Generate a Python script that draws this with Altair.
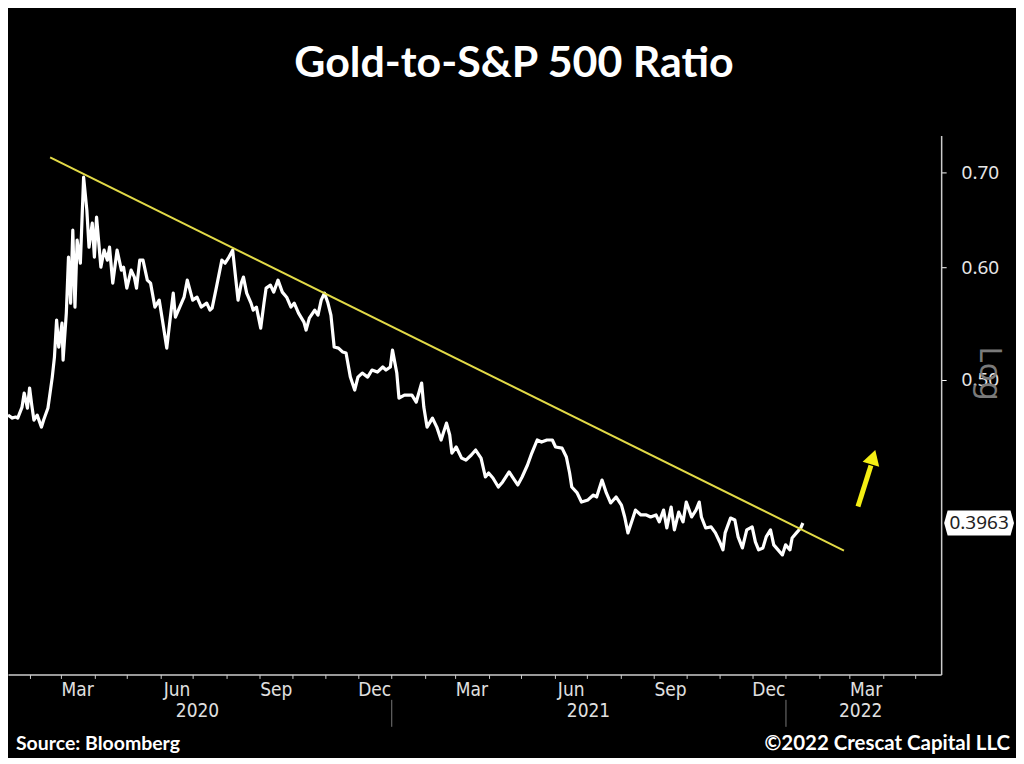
import altair as alt
import pandas as pd

# ---- data ----
# dates are given as days elapsed since 2020-01-01
days_2020a = [11, 15, 18, 20, 24, 26, 29, 31, 33, 35, 38, 42, 44, 48, 52, 54, 56, 58, 61, 62,
              65, 67, 69, 71, 73, 75, 78, 81, 84, 86, 89, 91, 93, 97, 100, 103, 105, 108, 112, 116,
              118, 121, 125, 128, 130, 133, 136, 140, 143, 147, 151, 154, 158, 161, 164, 166, 170,
              174, 177, 182, 186, 190, 195]
ratio_2020a = [0.4721, 0.4698, 0.4706, 0.4698, 0.4783, 0.4893, 0.4775, 0.4933, 0.4798, 0.4683,
               0.4721, 0.4630, 0.4683, 0.4775, 0.5021, 0.5187, 0.5507, 0.5272, 0.5480, 0.5162,
               0.5570, 0.6099, 0.5661, 0.6372, 0.5625, 0.6270, 0.6040, 0.6944, 0.6582, 0.6199,
               0.6445, 0.6099, 0.6508, 0.6001, 0.6169, 0.6070, 0.6199, 0.5848, 0.6169, 0.5972,
               0.6001, 0.5801, 0.5972, 0.5905, 0.5801, 0.6070, 0.6070, 0.5876, 0.5848, 0.5625,
               0.5689, 0.5507, 0.5263, 0.5507, 0.5754, 0.5534, 0.5625, 0.5716, 0.5876, 0.5689,
               0.5716, 0.5625, 0.5661]
days_2020b = [198, 200, 204, 209, 212, 215, 219, 221, 224, 227, 229, 232, 236, 238, 241, 245, 248,
              250, 254, 257, 261, 265, 269, 273, 276, 280, 285, 287, 290, 295, 298, 301, 304, 307,
              310, 313, 317, 321, 324, 328, 332, 335, 339, 344, 348, 353, 358, 361, 365, 367, 371,
              373, 378]
ratio_2020b = [0.5597, 0.5615, 0.5810, 0.6070, 0.6040, 0.6089, 0.6169, 0.5972, 0.5689, 0.5848,
               0.5905, 0.5754, 0.5661, 0.5597, 0.5625, 0.5436, 0.5661, 0.5801, 0.5829, 0.5763,
               0.5876, 0.5763, 0.5716, 0.5625, 0.5661, 0.5570, 0.5489, 0.5419, 0.5525, 0.5597,
               0.5552, 0.5689, 0.5754, 0.5670, 0.5552, 0.5272, 0.5263, 0.5229, 0.5221, 0.5021,
               0.4917, 0.5021, 0.5054, 0.5021, 0.5079, 0.5062, 0.5104, 0.5079, 0.5104, 0.5246,
               0.5054, 0.4853, 0.4877]
days_2021a = [385, 389, 394, 396, 399, 404, 408, 412, 417, 420, 422, 426, 431, 435, 440, 444, 449,
              453, 456, 460, 465, 469, 475, 480, 483, 487, 492, 496, 501, 505, 510, 515, 518, 524,
              528, 531, 533, 538, 542, 548, 553, 556, 561, 565, 569, 574]
ratio_2021a = [0.4877, 0.4822, 0.4973, 0.4783, 0.4630, 0.4698, 0.4630, 0.4534, 0.4660, 0.4571,
               0.4439, 0.4483, 0.4403, 0.4389, 0.4425, 0.4461, 0.4403, 0.4270, 0.4298, 0.4263,
               0.4201, 0.4236, 0.4305, 0.4249, 0.4215, 0.4270, 0.4354, 0.4439, 0.4534, 0.4519,
               0.4534, 0.4534, 0.4483, 0.4475, 0.4411, 0.4298, 0.4201, 0.4161, 0.4100, 0.4114,
               0.4147, 0.4134, 0.4249, 0.4161, 0.4094, 0.4134]
days_2021b = [579, 582, 585, 589, 592, 597, 602, 606, 611, 614, 618, 621, 625, 628, 632, 636, 639,
              644, 648, 651, 653, 657, 662, 666, 670, 673, 675, 680, 684, 687, 691, 695, 700, 703,
              706, 710, 713, 717, 720, 724, 728, 731, 735, 737, 741, 745, 747]
ratio_2021b = [0.4080, 0.4002, 0.3900, 0.3982, 0.4047, 0.4015, 0.4015, 0.4002, 0.4015, 0.3970,
               0.4047, 0.3931, 0.4067, 0.3919, 0.4034, 0.3970, 0.4100, 0.4002, 0.4047, 0.4100,
               0.4002, 0.3931, 0.3938, 0.3900, 0.3843, 0.3794, 0.3900, 0.3995, 0.3982, 0.3875,
               0.3806, 0.3919, 0.3938, 0.3843, 0.3794, 0.3806, 0.3875, 0.3919, 0.3825, 0.3794,
               0.3763, 0.3825, 0.3794, 0.3868, 0.3900, 0.3931, 0.3963]

trend_dates = ["2020-02-20", "2022-02-24"]
trend_values = [0.717, 0.379]
arrow_dates = ["2022-03-09", "2022-03-21"]
arrow_values = [0.407, 0.435]
arrow_head_date = ["2022-03-23"]
arrow_head_value = [0.441]
y_ticks = [0.50, 0.60, 0.70]
last_label = "0.3963"
title_text = "Gold-to-S&P 500 Ratio"
source_text = "Source: Bloomberg"
copyright_text = "©2022 Crescat Capital LLC"

# ---- scales ----
W, H = 935, 540
x_scale = alt.Scale(domain=[alt.DateTime(year=2020, month=1, date=12),
                            alt.DateTime(year=2022, month=5, date=25)])
y_scale = alt.Scale(type="log", domain=[0.31, 0.743])

month_starts = [alt.DateTime(year=yy, month=mm, date=1)
                for yy in (2020, 2021, 2022) for mm in range(1, 13)
                if (yy, mm) > (2020, 1) and (yy, mm) <= (2022, 5)]
month_mids = [alt.DateTime(year=yy, month=mm, date=16)
              for yy in (2020, 2021, 2022) for mm in (3, 6, 9, 12)
              if (yy, mm) <= (2022, 3)]
year_mids = [alt.DateTime(year=2020, month=7, date=5),
             alt.DateTime(year=2021, month=7, date=2),
             alt.DateTime(year=2022, month=3, date=11)]
year_starts = [alt.DateTime(year=2021, month=1, date=1),
               alt.DateTime(year=2022, month=1, date=1)]

AXIS_FONT = "Liberation Sans Narrow, DejaVu Sans Condensed, Noto Sans"
LABEL_FONT = "Noto Sans"

all_days = days_2020a + days_2020b + days_2021a + days_2021b
all_ratio = ratio_2020a + ratio_2020b + ratio_2021a + ratio_2021b
main_df = pd.DataFrame({
    "date": pd.Timestamp("2020-01-01") + pd.to_timedelta(all_days, unit="D"),
    "ratio": all_ratio,
})
main_df["date"] = main_df["date"].dt.strftime("%Y-%m-%d")

main = alt.Chart(main_df).mark_line(color="white", strokeWidth=3.2,
                                    strokeJoin="round").encode(
    x=alt.X("date:T", scale=x_scale,
            axis=alt.Axis(orient="bottom", values=month_starts, labels=False, ticks=True,
                          tickSize=4, tickColor="#cccccc", domain=True,
                          domainColor="#cccccc", domainWidth=1.5, grid=False, title=None)),
    y=alt.Y("ratio:Q", scale=y_scale,
            axis=alt.Axis(orient="right", values=y_ticks, format=".2f", grid=False,
                          domainColor="#cccccc", domainWidth=1.5, tickColor="#ffffff",
                          tickSize=5, labelPadding=15, labelFontSize=19,
                          labelFont=LABEL_FONT, labelColor="#e6e6e6",
                          title="Log", titleColor="#7a7a7a", titleFontSize=31,
                          titleFont=LABEL_FONT, titleFontWeight="normal", titleAngle=90,
                          titleX=47, titleY=238, titleAlign="center",
                          titleBaseline="middle")),
)

trend_df = pd.DataFrame({"date": trend_dates, "ratio": trend_values})
trend = alt.Chart(trend_df).mark_line(color="#e2da47", strokeWidth=2).encode(
    x=alt.X("date:T", scale=x_scale,
            axis=alt.Axis(orient="bottom", values=month_mids, format="%b", ticks=False,
                          domain=False, grid=False, labelPadding=6, labelFontSize=19,
                          labelFont=AXIS_FONT, labelColor="#e0e0e0", title=None)),
    y=alt.Y("ratio:Q", scale=y_scale, axis=None),
)

arrow_df = pd.DataFrame({"d1": [arrow_dates[0]], "d2": [arrow_dates[1]],
                         "v1": [arrow_values[0]], "v2": [arrow_values[1]]})
shaft = alt.Chart(arrow_df).mark_rule(color="#f4ee14", strokeWidth=5).encode(
    x=alt.X("d1:T", scale=x_scale,
            axis=alt.Axis(orient="bottom", values=year_mids, format="%Y", ticks=False,
                          domain=False, grid=False, labelPadding=27, labelFontSize=19,
                          labelFont=AXIS_FONT, labelColor="#e0e0e0", title=None)),
    x2="d2:T",
    y=alt.Y("v1:Q", scale=y_scale, axis=None),
    y2="v2:Q",
)

head_df = pd.DataFrame({"date": arrow_head_date, "ratio": arrow_head_value})
head = alt.Chart(head_df).mark_point(shape="triangle-up", filled=True, size=300,
                                     angle=17, color="#f4ee14", opacity=1).encode(
    x=alt.X("date:T", scale=x_scale,
            axis=alt.Axis(orient="bottom", values=year_starts, labels=False, domain=False,
                          grid=False, ticks=True, tickSize=27, offset=25,
                          tickColor="#777777", title=None)),
    y=alt.Y("ratio:Q", scale=y_scale, axis=None),
)

last_df = pd.DataFrame({"ratio": [all_ratio[-1]], "label": [last_label]})
last_box = alt.Chart(last_df).mark_point(
    shape="M -1 0 L -0.9 -0.36 L 0.9 -0.36 L 1 0 L 0.9 0.36 L -0.9 0.36 Z",
    filled=True, size=4900, color="white", opacity=1).encode(
    x=alt.value(973),
    y=alt.Y("ratio:Q", scale=y_scale, axis=None),
)
last_text = alt.Chart(last_df).mark_text(fontSize=19, font=LABEL_FONT, color="#222222",
                                         baseline="middle", align="center").encode(
    x=alt.value(973),
    y=alt.Y("ratio:Q", scale=y_scale, axis=None),
    text="label:N",
)

txt_df = pd.DataFrame({"t": [title_text], "s": [source_text], "c": [copyright_text]})
title = alt.Chart(txt_df).mark_text(font="Lato", fontWeight="bold", fontSize=43,
                                    color="white", align="center", baseline="middle").encode(
    x=alt.value(507), y=alt.value(-72), text="t:N")
source = alt.Chart(txt_df).mark_text(font="Lato", fontWeight="bold", fontSize=19.5,
                                     color="white", align="left", baseline="middle").encode(
    x=alt.value(8), y=alt.value(610), text="s:N")
copyright_ = alt.Chart(txt_df).mark_text(font="Lato", fontWeight="bold", fontSize=20.5,
                                         color="white", align="right", baseline="middle").encode(
    x=alt.value(1004), y=alt.value(610), text="c:N")

chart = alt.layer(main, trend, shaft, head, last_box, last_text, title, source, copyright_).resolve_axis(
    x="independent", y="independent"
).properties(
    width=W, height=H,
    autosize=alt.AutoSizeParams(type="none"),
    padding={"left": 0, "top": 127, "right": 75, "bottom": 83},
    background="#000000",
).configure_view(strokeWidth=0)

chart.save("out.html", embed_options={"renderer": "svg", "actions": False})
